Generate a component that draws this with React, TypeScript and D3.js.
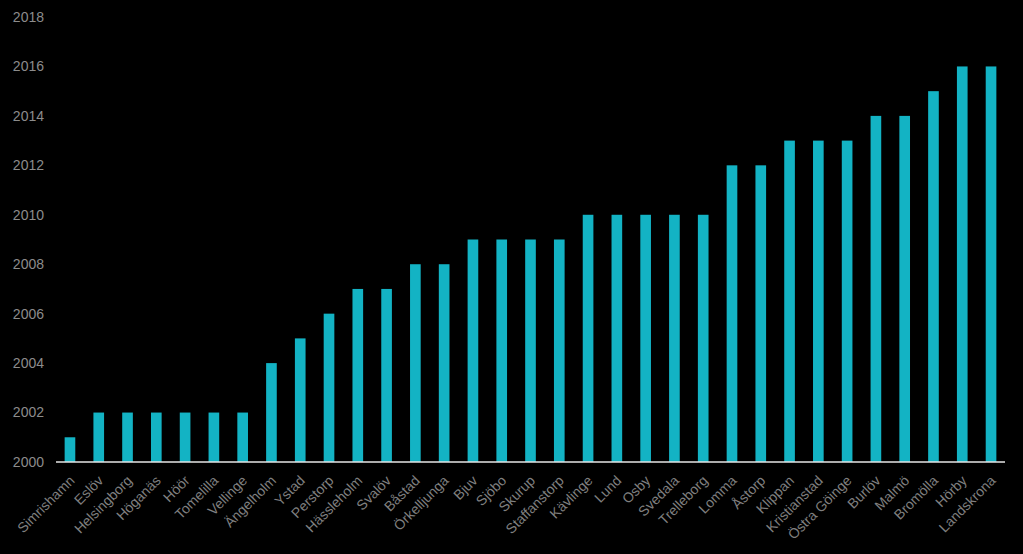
import React, { useEffect, useRef } from "react";
import * as d3 from "d3";

const municipalities = [
  "Simrishamn", "Eslöv", "Helsingborg", "Höganäs", "Höör", "Tomelilla", "Vellinge",
  "Ängelholm", "Ystad", "Perstorp", "Hässleholm", "Svalöv", "Båstad", "Örkelljunga",
  "Bjuv", "Sjöbo", "Skurup", "Staffanstorp", "Kävlinge", "Lund", "Osby", "Svedala",
  "Trelleborg", "Lomma", "Åstorp", "Klippan", "Kristianstad", "Östra Göinge", "Burlöv",
  "Malmö", "Bromölla", "Hörby", "Landskrona",
];
const years = [
  2001, 2002, 2002, 2002, 2002, 2002, 2002,
  2004, 2005, 2006, 2007, 2007, 2008, 2008,
  2009, 2009, 2009, 2009, 2010, 2010, 2010, 2010,
  2010, 2012, 2012, 2013, 2013, 2013, 2014,
  2014, 2015, 2016, 2016,
];
const yTicks = [2000, 2002, 2004, 2006, 2008, 2010, 2012, 2014, 2016, 2018];

const W = 1023;
const H = 554;

export default function App() {
  const ref = useRef<SVGSVGElement>(null);
  useEffect(() => {
    const svg = d3.select(ref.current);
    svg.selectAll("*").remove();
    const left = 56, right = 1005, top = 17, bottom = 462;
    const x = d3.scaleBand<string>().domain(municipalities).range([left, right]).paddingInner(0.63).paddingOuter(0.3);
    const y = d3.scaleLinear().domain([2000, 2018]).range([bottom, top]);

    svg.append("rect").attr("width", W).attr("height", H).attr("fill", "#000");

    svg.append("g").selectAll("rect").data(municipalities).join("rect")
      .attr("x", (d) => x(d)!)
      .attr("width", x.bandwidth())
      .attr("y", (d, i) => y(years[i]))
      .attr("height", (d, i) => y(2000) - y(years[i]))
      .attr("fill", "#13B3C4");

    svg.append("line").attr("x1", left).attr("x2", right).attr("y1", bottom).attr("y2", bottom)
      .attr("stroke", "#e6e6e6").attr("stroke-width", 1.5);

    svg.append("g").selectAll("text").data(yTicks).join("text")
      .attr("x", 44).attr("y", (d) => y(d)).attr("dy", "0.35em")
      .attr("text-anchor", "end")
      .attr("font-family", "Liberation Sans, Arial, sans-serif").attr("font-size", 14)
      .attr("fill", "#8c8c8c").text((d) => d);

    svg.append("g").selectAll("text").data(municipalities).join("text")
      .attr("transform", (d) => `translate(${x(d)! + x.bandwidth() / 2 + 2},${bottom + 16}) rotate(-45)`)
      .attr("text-anchor", "end")
      .attr("dy", "0.35em")
      .attr("font-family", "Liberation Sans, Arial, sans-serif").attr("font-size", 14)
      .attr("fill", "#7f7f7f").text((d) => d);
  }, []);
  return <svg ref={ref} width={W} height={H} style={{ position: "absolute", left: 0, top: 0 }} />;
}
